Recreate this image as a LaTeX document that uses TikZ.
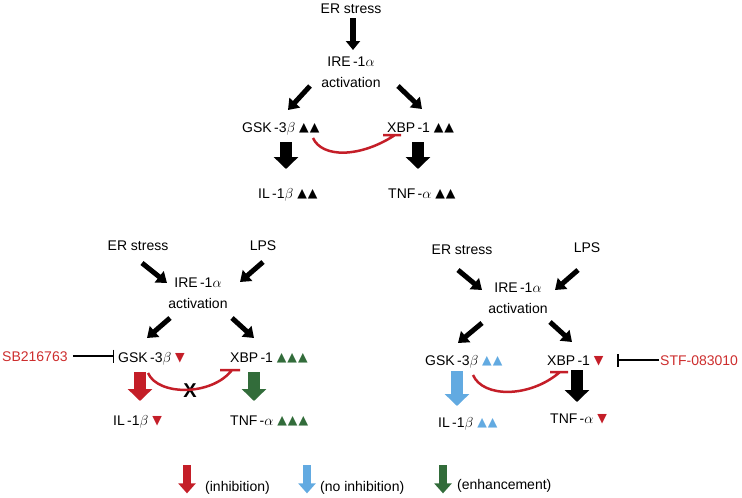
\documentclass[tikz,border=0pt]{standalone}
\usepackage{fontspec}
\setmainfont{Liberation Sans}
\newfontfamily\symf{DejaVu Sans}
\usetikzlibrary{arrows.meta,calc}
\definecolor{myred}{RGB}{196,30,40}
\definecolor{txtred}{RGB}{205,45,45}
\definecolor{mygreen}{RGB}{50,108,58}
\definecolor{myblue}{RGB}{98,170,225}
\newcommand{\tris}[2]{{\symf\fontsize{12.5}{12}\selectfont\color{#1}\raisebox{0.5pt}{#2}}}
\newcommand{\up}{▲}
\newcommand{\dn}{▼}
\begin{document}
\begin{tikzpicture}[x=1pt,y=-1pt,
  lbl/.style={inner sep=0pt, font=\fontsize{14}{21}\selectfont},
  twol/.style={lbl, align=center},
  bigarr/.style={line width=6pt, -{Triangle[length=9pt,width=14pt]}},
  diagarr/.style={line width=5pt, -{Triangle[length=10pt,width=14pt]}},
  fatarr/.style={line width=12pt, -{Triangle[length=12pt,width=24pt]}},
  legarr/.style={line width=8pt, -{Triangle[length=10pt,width=17pt]}},
  inhcurve/.style={draw=myred, line width=2.5pt},
  blocker/.style={line width=1.5pt, -{Bar[width=13pt,line width=1.5pt]}}]
\path[use as bounding box] (0,0) rectangle (742,498);

% ---------------- top diagram ----------------
\node[lbl, anchor=base] (ers1) at (351,13) {ER stress};
\node[twol] (ire1) at (351,72.5) {IRE\,-1$\alpha$\\activation};
\node[lbl, anchor=base west] (gsk1) at (242,132) {GSK\,-3$\beta$ \tris{black}{\up\kern1pt\up}};
\node[lbl, anchor=base west] (xbp1) at (387,132) {XBP\,-1 \tris{black}{\up\kern1pt\up}};
\node[lbl, anchor=base west] (il1) at (258,198) {IL\,-1$\beta$ \tris{black}{\up\kern1pt\up}};
\node[lbl, anchor=base west] (tnf1) at (388,198) {TNF\,-$\alpha$ \tris{black}{\up\kern1pt\up}};

\draw[bigarr] ($(ers1.base)+(2,5)$) -- ($(ire1.center)+(2,-22.5)$);
\draw[diagarr] ($(ire1.center)+(-41,13.5)$) -- ($(gsk1.base west)+(46,-22)$);
\draw[diagarr] ($(ire1.center)+(47,13.5)$) -- ($(xbp1.base west)+(35,-23)$);
\draw[fatarr] ($(gsk1.base west)+(44,10)$) -- ($(il1.base west)+(28,-29)$);
\draw[fatarr] ($(xbp1.base west)+(31,10)$) -- ($(tnf1.base west)+(30,-29)$);
\draw[inhcurve] ($(gsk1.base west)+(71,6)$) .. controls +(9,20) and +(-35,23) .. ($(xbp1.base west)+(8,3)$) ++(-12,0) -- ++(18,0);

% ---------------- bottom left ----------------
\node[lbl, anchor=base] (ers2) at (138,250) {ER stress};
\node[lbl, anchor=base] (lps2) at (263,250) {LPS};
\node[twol] (ire2) at (198,293.5) {IRE\,-1$\alpha$\\activation};
\node[lbl, anchor=base west, text=txtred] (sb) at (2,361) {SB216763};
\node[lbl, anchor=base west] (gsk2) at (118,362) {GSK\,-3$\beta$ \tris{myred}{\dn}};
\node[lbl, anchor=base west] (xbp2) at (230,362) {XBP\,-1 \tris{mygreen}{\up\kern1pt\up\kern1pt\up}};
\node[lbl, anchor=base west] (il2) at (113,425) {IL\,-1$\beta$ \tris{myred}{\dn}};
\node[lbl, anchor=base west] (tnf2) at (230,425) {TNF\,-$\alpha$ \tris{mygreen}{\up\kern1pt\up\kern1pt\up}};
\node[inner sep=0pt, font=\bfseries\fontsize{20}{20}\selectfont] (xmark) at (190,391) {X};

\draw[diagarr] ($(ers2.base)+(4,13)$) -- ($(ire2.center)+(-31,-10.5)$);
\draw[diagarr] ($(lps2.base)+(0,12)$) -- ($(ire2.center)+(42,-11.5)$);
\draw[diagarr] ($(ire2.center)+(-28,24.5)$) -- ($(gsk2.base west)+(29,-24)$);
\draw[diagarr] ($(ire2.center)+(34,24.5)$) -- ($(xbp2.base west)+(24,-24)$);
\draw[blocker] ($(sb.east)+(5,0)$) -- ($(sb.east -| gsk2.west)+(-4,0)$);
\draw[fatarr, myred] ($(gsk2.base west)+(22,10)$) -- ($(il2.base west)+(27,-24)$);
\draw[fatarr, mygreen] ($(xbp2.base west)+(24,10)$) -- ($(tnf2.base west)+(24,-24)$);
\draw[inhcurve] ($(gsk2.base west)+(30,11)$) .. controls +(10,23) and +(-20,26) .. ($(xbp2.base west)+(2,8)$) ++(-12,0) -- ++(20,0);

% ---------------- bottom right ----------------
\node[lbl, anchor=base] (ers3) at (462,254) {ER stress};
\node[lbl, anchor=base] (lps3) at (587,252) {LPS};
\node[twol] (ire3) at (518,298.5) {IRE\,-1$\alpha$\\activation};
\node[lbl, anchor=base west] (gsk3) at (425,365) {GSK\,-3$\beta$ \tris{myblue}{\up\kern1pt\up}};
\node[lbl, anchor=base west] (xbp3) at (547,365) {XBP\,-1 \tris{myred}{\dn}};
\node[lbl, anchor=base west, text=txtred] (stf) at (660,365) {STF-083010};
\node[lbl, anchor=base west] (il3) at (438,427) {IL\,-1$\beta$ \tris{myblue}{\up\kern1pt\up}};
\node[lbl, anchor=base west] (tnf3) at (550,423) {TNF\,-$\alpha$ \tris{myred}{\dn}};

\draw[diagarr] ($(ers3.base)+(-4,16)$) -- ($(ire3.center)+(-36,-8.5)$);
\draw[diagarr] ($(lps3.base)+(-9,18)$) -- ($(ire3.center)+(37,-8.5)$);
\draw[diagarr] ($(ire3.center)+(-36,24.5)$) -- ($(gsk3.base west)+(33,-22)$);
\draw[diagarr] ($(ire3.center)+(32,23.5)$) -- ($(xbp3.base west)+(25,-23)$);
\draw[blocker] ($(stf.west)+(-1,0)$) -- ++(-42,0);
\draw[fatarr, myblue] ($(gsk3.base west)+(32,6)$) -- ($(il3.base west)+(19,-21)$);
\draw[fatarr] ($(xbp3.base west)+(30,5)$) -- ($(tnf3.base west)+(27,-21)$);
\draw[inhcurve] ($(gsk3.base west)+(48,10)$) .. controls +(10,23) and +(-30,26) .. ($(xbp3.base west)+(13,7)$) ++(-10,0) -- ++(18,0);

% ---------------- legend ----------------
\node[lbl, anchor=base west] (inh) at (205,491) {(inhibition)};
\node[lbl, anchor=base west] (noinh) at (320,491) {(no inhibition)};
\node[lbl, anchor=base west] (enh) at (457,489) {(enhancement)};
\draw[legarr, myred] ($(inh.west)+(-18,-22)$) -- ($(inh.west)+(-18,6)$);
\draw[legarr, myblue] ($(noinh.west)+(-13,-22)$) -- ($(noinh.west)+(-13,6)$);
\draw[legarr, mygreen] ($(enh.west)+(-14,-20)$) -- ($(enh.west)+(-14,8)$);
\end{tikzpicture}
\end{document}
